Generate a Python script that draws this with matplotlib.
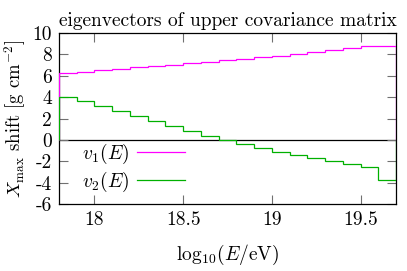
import numpy as np
import matplotlib
matplotlib.use("Agg")
import matplotlib.pyplot as plt

plt.rcParams["font.family"] = "serif"
plt.rcParams["font.serif"] = ["cmr10", "DejaVu Serif"]
plt.rcParams["mathtext.fontset"] = "cm"
plt.rcParams["axes.unicode_minus"] = False

# bin edges in log10(E/eV)
edges = [17.8, 17.9, 18.0, 18.1, 18.2, 18.3, 18.4, 18.5, 18.6, 18.7,
         18.8, 18.9, 19.0, 19.1, 19.2, 19.3, 19.4, 19.5, 19.6, 19.7]
v1 = [6.25, 6.40, 6.53, 6.66, 6.78, 6.90, 7.03, 7.19, 7.31, 7.44,
      7.56, 7.72, 7.88, 8.03, 8.19, 8.38, 8.56, 8.75, 8.75]
v2 = [4.06, 3.63, 3.16, 2.69, 2.22, 1.75, 1.28, 0.81, 0.41, 0.0,
      -0.41, -0.78, -1.13, -1.44, -1.72, -2.0, -2.28, -2.56, -3.75]
xticks = [18, 18.5, 19, 19.5]
xticklabels = ["18", "18.5", "19", "19.5"]
yticks = [-6, -4, -2, 0, 2, 4, 6, 8, 10]
yticklabels = ["-6", "-4", "-2", "0", "2", "4", "6", "8", "10"]

fs = 14

fig = plt.figure(figsize=(4.07, 2.71), dpi=100)
ax = fig.add_axes([0.145, 0.247, 0.828, 0.631])

ax.axhline(0, color="black", lw=0.9, zorder=1)
ax.stairs(v1, edges, baseline=0, color="#ff00ff", lw=0.9, label=r"$v_1(E)$", zorder=3)
ax.stairs(v2, edges, baseline=0, color="#00b000", lw=0.9, label=r"$v_2(E)$", zorder=3)

ax.set_xlim(17.8, 19.7)
ax.set_ylim(-6, 10)
ax.set_xticks(xticks)
ax.set_xticklabels(xticklabels)
ax.set_yticks(yticks)
ax.set_yticklabels(yticklabels)
ax.tick_params(direction="in", length=6.5, width=0.8, color="#707070",
               top=True, right=True, labelsize=fs, pad=5)
for s in ax.spines.values():
    s.set_linewidth(0.9)

ax.set_title("eigenvectors of upper covariance matrix", fontsize=fs, pad=5)
ax.set_xlabel(r"$\mathrm{log}_{10}(E/\mathrm{eV})$", fontsize=fs, labelpad=10)
ax.set_ylabel(r"$X_{\rm max}$ shift [g cm$^{-2}$]", fontsize=13.5, labelpad=3)

leg = ax.legend(loc="upper left", bbox_to_anchor=(0.068, 0.365), frameon=False,
                markerfirst=False, handlelength=2.5, fontsize=fs,
                labelspacing=0.2, handletextpad=0.4, borderaxespad=0,
                borderpad=0)

fig.savefig("out.png", dpi=100)
